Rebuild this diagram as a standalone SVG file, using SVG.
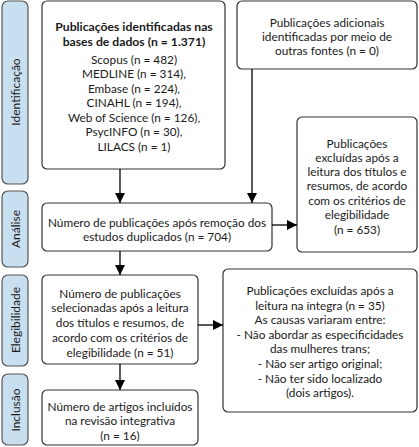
<svg xmlns="http://www.w3.org/2000/svg" width="419" height="447" viewBox="0 0 419 447">
<defs>
<marker id="ah" viewBox="0 0 10 10" refX="10" refY="5" markerWidth="10" markerHeight="10" markerUnits="userSpaceOnUse" orient="auto">
<path d="M0,0 L10,5 L0,10 z" fill="#000"/>
</marker>
<style>
.side{fill:#c8dff0;stroke:#555;stroke-width:1.2}
.box{fill:#fff;stroke:#333;stroke-width:1.2}
text{font-family:Lato,"Liberation Sans",sans-serif;font-size:11.8px;fill:#1a1a1a;text-anchor:middle;dominant-baseline:central}
.b{font-weight:bold;font-size:12.2px}
.st{font-size:12px}
.edge{stroke:#000;stroke-width:1.3;fill:none;marker-end:url(#ah)}
</style>
</defs>
<g id="side-identificacao"><rect class="side" x="2" y="1" width="26" height="183" rx="6"/><text class="st" transform="translate(15,92) rotate(-90)">Identificação</text></g>
<g id="side-analise"><rect class="side" x="2" y="191" width="26" height="76" rx="6"/><text class="st" transform="translate(15,229) rotate(-90)">Análise</text></g>
<g id="side-elegibilidade"><rect class="side" x="2" y="275" width="26" height="91" rx="6"/><text class="st" transform="translate(15,320) rotate(-90)">Elegibilidade</text></g>
<g id="side-inclusao"><rect class="side" x="2" y="374" width="26" height="71" rx="6"/><text class="st" transform="translate(15,410) rotate(-90)">Inclusão</text></g>

<g id="n-identificadas"><rect class="box" x="42" y="1" width="183" height="168" rx="5"/>
<text class="b" x="134" y="26">Publicações identificadas nas</text>
<text class="b" x="134" y="41">bases de dados (n = 1.371)</text>
<text x="134" y="59">Scopus (n = 482)</text>
<text x="134" y="73">MEDLINE (n = 314),</text>
<text x="134" y="88">Embase (n = 224),</text>
<text x="134" y="102">CINAHL (n = 194),</text>
<text x="134" y="117">Web of Science (n = 126),</text>
<text x="134" y="131">PsycINFO (n = 30),</text>
<text x="134" y="146">LILACS (n = 1)</text>
</g>
<g id="n-adicionais"><rect class="box" x="237" y="1" width="180" height="68" rx="5"/>
<text x="327" y="22">Publicações adicionais</text>
<text x="327" y="36">identificadas por meio de</text>
<text x="327" y="50">outras fontes (n = 0)</text>
</g>
<g id="n-excluidas1"><rect class="box" x="297" y="117" width="120" height="135" rx="5"/>
<text x="357" y="143">Publicações</text>
<text x="357" y="157">excluídas após a</text>
<text x="357" y="171">leitura dos títulos e</text>
<text x="357" y="185">resumos, de acordo</text>
<text x="357" y="200">com os critérios de</text>
<text x="357" y="214">elegibilidade</text>
<text x="357" y="229">(n = 653)</text>
</g>
<g id="n-analise"><rect class="box" x="42" y="203" width="230" height="48" rx="5"/>
<text x="157" y="222">Número de publicações após remoção dos</text>
<text x="157" y="236">estudos duplicados (n = 704)</text>
</g>
<g id="n-elegibilidade"><rect class="box" x="42" y="275" width="156" height="89" rx="5"/>
<text x="120" y="293">Número de publicações</text>
<text x="120" y="307">selecionadas após a leitura</text>
<text x="120" y="322">dos títulos e resumos, de</text>
<text x="120" y="337">acordo com os critérios de</text>
<text x="120" y="352">elegibilidade (n = 51)</text>
</g>
<g id="n-excluidas2"><rect class="box" x="223" y="269" width="194" height="143" rx="5"/>
<text x="320" y="290">Publicações excluídas após a</text>
<text x="320" y="305">leitura na íntegra (n = 35)</text>
<text x="320" y="319">As causas variaram entre:</text>
<text x="320" y="334">- Não abordar as especificidades</text>
<text x="320" y="348">das mulheres trans;</text>
<text x="320" y="363">- Não ser artigo original;</text>
<text x="320" y="378">- Não ter sido localizado</text>
<text x="320" y="392">(dois artigos).</text>
</g>
<g id="n-inclusao"><rect class="box" x="42" y="390" width="156" height="55" rx="5"/>
<text x="120" y="406">Número de artigos incluídos</text>
<text x="120" y="420">na revisão integrativa</text>
<text x="120" y="435">(n = 16)</text>
</g>

<g id="connectors">
<path class="edge" d="M120,169 V203"/>
<path class="edge" d="M252,69 V203"/>
<path class="edge" d="M272,225 H297"/>
<path class="edge" d="M120,251 V275"/>
<path class="edge" d="M198,325 H223"/>
<path class="edge" d="M120,364 V390"/>
</g>
</svg>
